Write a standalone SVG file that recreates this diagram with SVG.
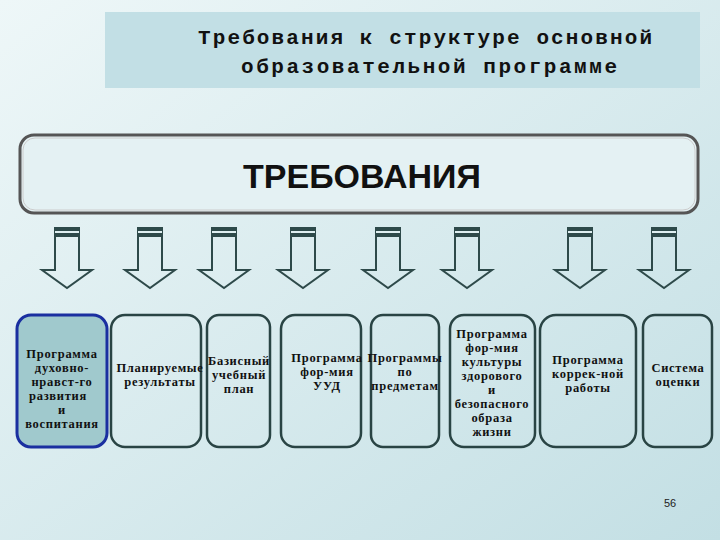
<svg xmlns="http://www.w3.org/2000/svg" width="720" height="540" viewBox="0 0 720 540">
<defs>
<linearGradient id="bg" x1="0" y1="0" x2="1" y2="1"><stop offset="0" stop-color="#eef7f8"/><stop offset="1" stop-color="#c3dfe4"/></linearGradient>
<g id="arr"><polygon points="-12,0 12,0 12,42 25,42 0,60 -25,42 -12,42" fill="none" stroke="#2e4a4a" stroke-width="2"/><rect x="-12" y="0" width="24" height="9" fill="#2e4a4a"/><rect x="-12" y="3" width="24" height="2" fill="#dfeff1"/></g>
</defs>
<style>
.b{fill:none;stroke:#294444;stroke-width:2.5}
.t{font-family:"Liberation Serif",serif;font-weight:bold;font-size:12.5px;letter-spacing:0.7px;fill:#111;text-anchor:middle}
.h{font-family:"Liberation Mono",monospace;font-weight:bold;font-size:21px;fill:#111}
</style>
<rect width="720" height="540" fill="url(#bg)"/>
<g id="title"><rect x="105" y="12" width="595" height="76" fill="#c2dfe5"/>
<text class="h" x="198" y="44" textLength="454" lengthAdjust="spacing">Требования к структуре основной</text>
<text class="h" x="241" y="73" textLength="376" lengthAdjust="spacing">образовательной программе</text></g>
<g id="req"><rect x="20" y="135" width="678" height="78" rx="14" fill="#e4f1f3" stroke="#555" stroke-width="3"/><rect x="23" y="138" width="672" height="72" rx="12" fill="none" stroke="#ccc" stroke-width="1"/>
<text x="362" y="188" style="font-family:'Liberation Sans',sans-serif;font-weight:bold;font-size:34px;fill:#111;text-anchor:middle">ТРЕБОВАНИЯ</text></g>
<g id="connectors">
<use href="#arr" x="67" y="228"/><use href="#arr" x="150" y="228"/><use href="#arr" x="224" y="228"/><use href="#arr" x="303" y="228"/><use href="#arr" x="388" y="228"/><use href="#arr" x="467" y="228"/><use href="#arr" x="580" y="228"/><use href="#arr" x="664" y="228"/>
</g>
<g id="n1"><rect x="17" y="315" width="90" height="132" rx="14" fill="#a0c9cd" stroke="#1a2fa0" stroke-width="3"/>
<text class="t" x="62" y="358">Программа</text><text class="t" x="62" y="372">духовно-</text><text class="t" x="62" y="386">нравст-го</text><text class="t" x="58" y="400">развития</text><text class="t" x="62" y="414">и</text><text class="t" x="62" y="428">воспитания</text></g>
<g id="n2"><rect class="b" x="111" y="315" width="90" height="132" rx="14"/><text class="t" x="160" y="372">Планируемые</text><text class="t" x="160" y="386">результаты</text></g>
<g id="n3"><rect class="b" x="207" y="315" width="63" height="132" rx="12"/><text class="t" x="239" y="365">Базисный</text><text class="t" x="239" y="379">учебный</text><text class="t" x="239" y="393">план</text></g>
<g id="n4"><rect class="b" x="281" y="315" width="80" height="132" rx="14"/><text class="t" x="327" y="362">Программа</text><text class="t" x="327" y="376">фор-мия</text><text class="t" x="327" y="390">УУД</text></g>
<g id="n5"><rect class="b" x="371" y="315" width="68" height="132" rx="12"/><text class="t" x="405" y="362">Программы</text><text class="t" x="405" y="376">по</text><text class="t" x="405" y="390">предметам</text></g>
<g id="n6"><rect class="b" x="450" y="315" width="85" height="132" rx="14"/><text class="t" x="492" y="338">Программа</text><text class="t" x="492" y="352">фор-мия</text><text class="t" x="492" y="366">культуры</text><text class="t" x="492" y="380">здорового</text><text class="t" x="492" y="394">и</text><text class="t" x="492" y="408">безопасного</text><text class="t" x="492" y="422">образа</text><text class="t" x="492" y="436">жизни</text></g>
<g id="n7"><rect class="b" x="540" y="315" width="96" height="132" rx="16"/><text class="t" x="588" y="364">Программа</text><text class="t" x="588" y="378">коррек-ной</text><text class="t" x="588" y="392">работы</text></g>
<g id="n8"><rect class="b" x="643" y="315" width="69" height="132" rx="12"/><text class="t" x="678" y="372">Система</text><text class="t" x="678" y="386">оценки</text></g>
<text x="670" y="507" style="font-family:'Liberation Sans',sans-serif;font-size:11px;fill:#222;text-anchor:middle">56</text>
</svg>
